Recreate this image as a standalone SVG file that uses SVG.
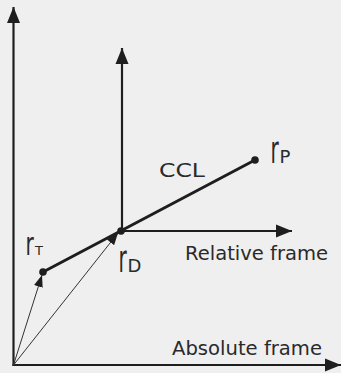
<svg xmlns="http://www.w3.org/2000/svg" width="341" height="373" viewBox="0 0 341 373">
<defs>
<style>
.ax{stroke:#1e1e1e;stroke-width:2.2;fill:none}
.thick{stroke:#1e1e1e;stroke-width:3;fill:none;stroke-linecap:round}
.thin{stroke:#333;stroke-width:1;fill:none}
.dot{fill:#1e1e1e}
.lbl{font-family:"DejaVu Sans","Liberation Sans",sans-serif;fill:#2a2a2a}
</style>
<marker id="axhead" markerUnits="userSpaceOnUse" markerWidth="17" markerHeight="14" refX="16" refY="7" orient="auto" viewBox="0 0 17 14">
<path d="M0,0.5 L16,7 L0,13.5 z" fill="#1e1e1e"/>
</marker>
<marker id="thinhead" markerUnits="userSpaceOnUse" markerWidth="13" markerHeight="10" refX="12" refY="5" orient="auto" viewBox="0 0 13 10">
<path d="M0,0.5 L12,5 L0,9.5 z" fill="#1e1e1e"/>
</marker>
</defs>
<rect width="341" height="373" fill="#efefef"/>
<g id="connectors">
<line class="ax" x1="13.5" y1="366" x2="13.5" y2="7" marker-end="url(#axhead)"/>
<line class="ax" x1="12.5" y1="365" x2="341" y2="365" marker-end="url(#axhead)"/>
<line class="ax" x1="122" y1="231" x2="122" y2="48" marker-end="url(#axhead)"/>
<line class="ax" x1="122" y1="231" x2="292" y2="231" marker-end="url(#axhead)"/>
<line class="thick" x1="43" y1="272" x2="255" y2="160"/>
<line class="thin" x1="13.5" y1="365" x2="42" y2="275" marker-end="url(#thinhead)"/>
<line class="thin" x1="13.5" y1="365" x2="118" y2="233" marker-end="url(#thinhead)"/>
</g>
<g id="point-rT">
<circle class="dot" cx="43" cy="272" r="3.8"/>
<text class="lbl" font-size="20" transform="translate(25.5,255) scale(1,1.56)">r</text>
<text class="lbl" font-size="13" x="35" y="255">T</text>
</g>
<g id="point-rD">
<circle class="dot" cx="121" cy="231" r="3.8"/>
<text class="lbl" font-size="20" transform="translate(118.5,272) scale(1,1.83)">r</text>
<text class="lbl" font-size="18" x="127.5" y="272">D</text>
</g>
<g id="point-rP">
<circle class="dot" cx="255" cy="160" r="3.8"/>
<text class="lbl" font-size="20" transform="translate(270.5,163) scale(1,1.9)">r</text>
<text class="lbl" font-size="18" x="279.5" y="163">P</text>
</g>
<g id="label-CCL">
<text class="lbl" font-size="19.5" x="159" y="177" textLength="46" lengthAdjust="spacingAndGlyphs">CCL</text>
</g>
<g id="relative-frame">
<text class="lbl" font-size="20" x="185" y="260" textLength="143" lengthAdjust="spacingAndGlyphs">Relative frame</text>
</g>
<g id="absolute-frame">
<text class="lbl" font-size="20" x="172" y="355" textLength="150" lengthAdjust="spacingAndGlyphs">Absolute frame</text>
</g>
</svg>
